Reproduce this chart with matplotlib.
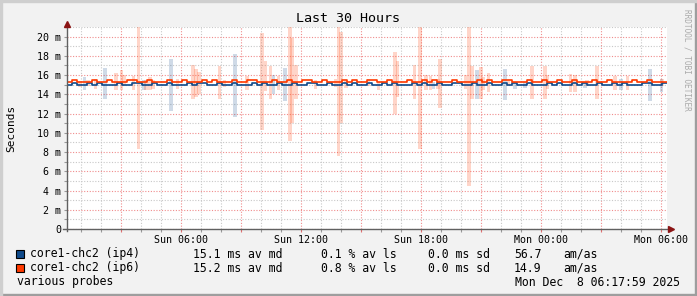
import numpy as np
import matplotlib
matplotlib.use('Agg')
import matplotlib.pyplot as plt
from matplotlib.ticker import MultipleLocator, FuncFormatter
from matplotlib.patches import Rectangle

W, H = 697, 296
MONO = 'DejaVu Sans Mono'

# median RTT in ms, 15 minute bins starting Sun 00:18
median_ip4 = [
    15.0, 15.2, 15.0, 15.0, 15.2, 15.0, 15.2, 15.0, 15.0, 15.0, 15.2, 15.0, 15.0, 15.2, 15.2, 15.0, 15.0, 15.2, 15.0, 15.0,
    15.2, 15.0, 15.0, 15.0, 15.2, 15.0, 15.2, 15.2, 15.0, 15.0, 15.2, 15.0, 15.0, 15.2, 15.0, 15.0, 15.0, 15.2, 15.0, 15.2,
    15.0, 15.0, 15.2, 15.0, 15.0, 15.2, 15.0, 15.0, 15.2, 15.2, 15.0, 15.0, 15.2, 15.0, 15.0, 15.2, 15.0, 15.2, 15.0, 15.0,
    15.2, 15.0, 15.0, 15.2, 15.0, 15.2, 15.0, 15.0, 15.0, 15.2, 15.0, 15.2, 15.0, 15.0, 15.2, 15.0, 15.0, 15.2, 15.2, 15.0,
    15.0, 15.2, 15.0, 15.0, 15.2, 15.0, 15.0, 15.2, 15.0, 15.2, 15.0, 15.0, 15.2, 15.0, 15.0, 15.0, 15.2, 15.0, 15.2, 15.0,
    15.0, 15.2, 15.0, 15.2, 15.0, 15.0, 15.2, 15.0, 15.0, 15.2, 15.0, 15.2, 15.0, 15.0, 15.0, 15.2, 15.2, 15.0, 15.0, 15.2,
]
median_ip6 = [
    15.25, 15.45, 15.25, 15.25, 15.25, 15.45, 15.25, 15.25, 15.45, 15.25, 15.25, 15.25, 15.45, 15.45, 15.25, 15.25, 15.45, 15.25, 15.25, 15.25,
    15.45, 15.25, 15.25, 15.45, 15.25, 15.25, 15.25, 15.45, 15.25, 15.45, 15.25, 15.25, 15.25, 15.45, 15.25, 15.25, 15.45, 15.45, 15.25, 15.25,
    15.25, 15.45, 15.25, 15.25, 15.45, 15.25, 15.25, 15.45, 15.45, 15.25, 15.25, 15.45, 15.25, 15.25, 15.25, 15.45, 15.25, 15.45, 15.25, 15.25,
    15.45, 15.45, 15.25, 15.25, 15.45, 15.25, 15.25, 15.25, 15.45, 15.25, 15.25, 15.45, 15.25, 15.45, 15.25, 15.25, 15.25, 15.45, 15.25, 15.25,
    15.25, 15.25, 15.45, 15.25, 15.45, 15.25, 15.25, 15.45, 15.45, 15.25, 15.25, 15.25, 15.45, 15.25, 15.25, 15.45, 15.25, 15.25, 15.45, 15.25,
    15.25, 15.45, 15.25, 15.25, 15.25, 15.45, 15.25, 15.25, 15.45, 15.25, 15.25, 15.25, 15.25, 15.45, 15.25, 15.25, 15.45, 15.25, 15.25, 15.25,
]

# smoke (hour since Sun 00:00, low ms, high ms)
smoke_ip6 = [
    (0.95, 14.8, 15.4), (1.35, 14.9, 15.5), (1.73, 14.6, 15.6), (2.75, 14.4, 16.2), (3.03, 14.4, 16.5),
    (3.15, 14.9, 16.0), (3.63, 14.4, 15.9), (3.88, 8.3, 22.0), (4.25, 14.5, 15.5), (4.45, 14.4, 15.8),
    (4.6, 14.6, 15.5), (5.83, 14.6, 15.6), (6.6, 13.5, 17.0), (6.75, 13.7, 16.6), (6.9, 14.0, 16.3),
    (7.93, 13.5, 16.9), (8.18, 14.8, 15.5), (9.3, 14.4, 15.9), (10.05, 10.3, 20.4), (10.23, 14.3, 17.5),
    (10.48, 13.5, 16.9), (10.88, 14.4, 15.9), (11.45, 9.2, 22.0), (11.55, 11.0, 19.9), (11.75, 13.5, 17.0),
    (12.73, 14.6, 15.5), (13.73, 14.8, 15.6), (13.88, 7.6, 22.0), (14.0, 11.0, 20.5), (14.25, 14.7, 15.4),
    (15.38, 14.9, 15.6), (15.88, 14.4, 15.3), (16.7, 12.0, 18.4), (16.83, 13.7, 17.5), (17.68, 13.5, 17.0),
    (17.95, 8.3, 22.0), (18.25, 14.4, 16.0), (18.48, 14.4, 15.9), (18.85, 14.6, 15.6), (18.95, 12.6, 17.7),
    (20.23, 14.6, 16.0), (20.4, 4.5, 22.0), (20.55, 13.5, 16.9), (21.0, 13.5, 16.8), (21.1, 14.4, 15.8),
    (21.38, 14.2, 16.2), (22.38, 14.9, 15.4), (23.55, 13.5, 16.9), (24.2, 13.5, 16.9), (24.33, 14.6, 16.0),
    (25.48, 14.2, 16.1), (25.7, 14.2, 16.0), (26.3, 14.9, 15.5), (26.8, 13.5, 16.9), (27.7, 14.5, 15.9),
    (28.33, 14.5, 15.9), (30.05, 14.9, 15.6),
]
smoke_ip4 = [
    (1.18, 14.4, 15.8), (2.2, 13.5, 16.7), (4.15, 14.4, 15.5), (5.5, 12.3, 17.7), (8.7, 11.6, 18.2),
    (10.63, 14.0, 16.0), (11.2, 13.3, 16.7), (18.63, 14.6, 15.3), (20.8, 13.5, 16.5), (22.2, 13.4, 16.6),
    (22.7, 14.6, 15.3), (23.2, 14.7, 15.3), (26.2, 14.7, 15.2), (28.0, 14.5, 15.6), (29.45, 13.3, 16.6),
    (30.03, 14.2, 15.6),
]

legend_rows = [
    ('core1-chc2 (ip4)', '15.1 ms av md', '0.1 % av ls', '0.0 ms sd', '56.7', 'am/as'),
    ('core1-chc2 (ip6)', '15.2 ms av md', '0.8 % av ls', '0.0 ms sd', '14.9', 'am/as'),
]
ip4_color = '#0f4a8a'
ip6_color = '#ff3a00'

t_start, t_end = 0.3, 30.3
bin_h = 0.25


def px(x, y):
    return x / W, 1 - y / H


fig = plt.figure(figsize=(W / 100, H / 100), dpi=100, facecolor='#f2f2f2')
ax = fig.add_axes([67 / W, 67 / H, 600 / W, 202 / H])
ax.set_facecolor('white')
ax.set_xlim(t_start, t_end)
ax.set_ylim(0, 21)

# smoke
for data, col, a in [(smoke_ip4, ip4_color, 0.2), (smoke_ip6, '#ff5a28', 0.25)]:
    t = [d[0] for d in data]
    lo = np.array([d[1] for d in data])
    hi = np.array([d[2] for d in data])
    ax.bar(t, hi - lo, bottom=lo, width=0.18, color=col, alpha=a, linewidth=0, zorder=2)

# median lines
for vals, col in [(median_ip4, ip4_color), (median_ip6, ip6_color)]:
    tt = t_start + bin_h * np.arange(len(vals) + 1)
    ax.step(tt, list(vals) + [vals[-1]], where='post', color=col, lw=1.2, zorder=4)

# grid
ax.xaxis.set_major_locator(MultipleLocator(3))
ax.xaxis.set_minor_locator(MultipleLocator(1))
ax.yaxis.set_major_locator(MultipleLocator(2))
ax.yaxis.set_minor_locator(MultipleLocator(1))
ax.grid(which='minor', color='#c8c8c8', linestyle=(0, (1, 1.5)), linewidth=0.8, zorder=1)
ax.grid(which='major', color='#f08c8c', linestyle=(0, (1, 1.5)), linewidth=0.8, zorder=1)
ax.set_axisbelow(True)

days = {0: 'Sun', 1: 'Mon'}


def xfmt(v, pos):
    h = int(round(v))
    if h % 6:
        return ''
    return f'{days[h // 24]} {h % 24:02d}:00'


ax.xaxis.set_major_formatter(FuncFormatter(xfmt))
ax.yaxis.set_major_formatter(FuncFormatter(lambda v, p: '0' if v == 0 else f'{int(v)} m'))
ax.tick_params(which='both', direction='out', length=2.2, width=0.8, color='#999999',
               labelsize=7.2, pad=2)
ax.tick_params(axis='x', which='major', colors='#e07070', labelcolor='black')
for lab in ax.get_xticklabels() + ax.get_yticklabels():
    lab.set_family(MONO)

for s in ax.spines.values():
    s.set_visible(False)

# axes with arrows
ax.plot([0, 0], [-0.01, 1.01], transform=ax.transAxes, color='#606060', lw=1, clip_on=False, zorder=5)
ax.plot([-0.006, 1.003], [0, 0], transform=ax.transAxes, color='#606060', lw=1, clip_on=False, zorder=5)
ax.plot(0, 1.015, marker='^', ms=4, color='#8b1414', transform=ax.transAxes, clip_on=False, zorder=6)
ax.plot(1.007, 0, marker='>', ms=4, color='#8b1414', transform=ax.transAxes, clip_on=False, zorder=6)

# title and labels
fig.text(*px(348, 19), 'Last 30 Hours', ha='center', va='center', family=MONO, fontsize=9.6)
fig.text(*px(11, 128), 'Seconds', rotation=90, ha='center', va='center', family=MONO, fontsize=8)
fig.text(*px(687, 60), 'RRDTOOL / TOBI OETIKER', rotation=270, ha='center', va='center',
         family=MONO, fontsize=5.6, color='#aaaaaa')

# legend
cols_x = [30, 193, 321, 428, 514, 563]
for i, (row, col) in enumerate(zip(legend_rows, [ip4_color, ip6_color])):
    y = 254 + 14 * i
    fig.patches.append(Rectangle(px(16, y + 4), 8 / W, 8 / H, transform=fig.transFigure,
                                 facecolor=col, edgecolor='black', linewidth=0.8))
    for x, txt in zip(cols_x, row):
        fig.text(*px(x, y), txt, ha='left', va='center', family=MONO, fontsize=8.3)
fig.text(*px(17, 282), 'various probes', ha='left', va='center', family=MONO, fontsize=8.3)
fig.text(*px(680, 282), 'Mon Dec  8 06:17:59 2025', ha='right', va='center', family=MONO, fontsize=8.3)

# shaded border
fig.patches.append(Rectangle((0, 0), 1, 2 / H, transform=fig.transFigure, color='#9e9e9e'))
fig.patches.append(Rectangle((1 - 2 / W, 0), 2 / W, 1, transform=fig.transFigure, color='#9e9e9e'))
fig.patches.append(Rectangle((0, 1 - 2 / H), 1, 2 / H, transform=fig.transFigure, color='#cfcfcf'))
fig.patches.append(Rectangle((0, 0), 2 / W, 1, transform=fig.transFigure, color='#cfcfcf'))

fig.savefig('out.png', dpi=100, facecolor=fig.get_facecolor())
